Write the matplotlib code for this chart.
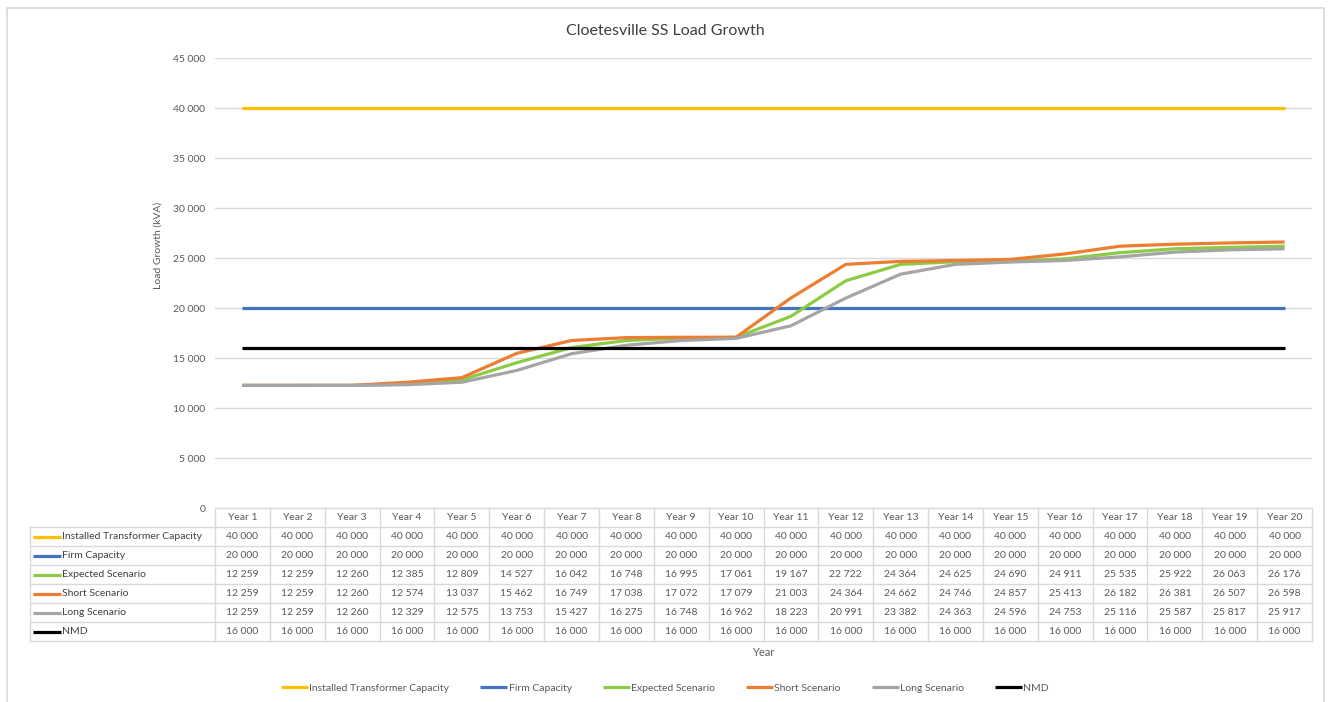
import matplotlib
matplotlib.use("Agg")
import matplotlib.pyplot as plt
import matplotlib.transforms as mtransforms
from matplotlib.lines import Line2D

plt.rcParams['font.family'] = ['Lato', 'DejaVu Sans']

# ---- data ----
years = [f"Year {i}" for i in range(1, 21)]
installed_capacity = [40000] * 20
firm_capacity = [20000] * 20
expected_scenario = [12259, 12259, 12260, 12385, 12809, 14527, 16042, 16748, 16995, 17061,
                     19167, 22722, 24364, 24625, 24690, 24911, 25535, 25922, 26063, 26176]
short_scenario = [12259, 12259, 12260, 12574, 13037, 15462, 16749, 17038, 17072, 17079,
                  21003, 24364, 24662, 24746, 24857, 25413, 26182, 26381, 26507, 26598]
long_scenario = [12259, 12259, 12260, 12329, 12575, 13753, 15427, 16275, 16748, 16962,
                 18223, 20991, 23382, 24363, 24596, 24753, 25116, 25587, 25817, 25917]
nmd = [16000] * 20

series_names = ["Installed Transformer Capacity", "Firm Capacity", "Expected Scenario",
                "Short Scenario", "Long Scenario", "NMD"]
series_values = [installed_capacity, firm_capacity, expected_scenario,
                 short_scenario, long_scenario, nmd]
series_colors = ["#FFC000", "#4472C4", "#8CCB46", "#ED7D31", "#A5A5A5", "#000000"]

y_ticks = list(range(0, 45001, 5000))

# ---- layout helpers (pixel positions on a 1330x702 canvas) ----
W, H = 1330, 702
def fx(x):
    return x / W
def fy(y):
    return 1 - y / H

TEXT = "#595959"
GRID = "#D9D9D9"

fig = plt.figure(figsize=(W / 100, H / 100), dpi=100)
fig.patch.set_facecolor("white")

# outer chart border
fig.add_artist(plt.Rectangle((fx(7), fy(720)), fx(1324) - fx(7), fy(8) - fy(720),
                             transform=fig.transFigure, fill=False,
                             edgecolor=GRID, linewidth=1.2))

ax_left, ax_right, ax_top, ax_bottom = 215, 1312, 58, 508
ax = fig.add_axes([fx(ax_left), fy(ax_bottom), fx(ax_right) - fx(ax_left),
                   fy(ax_top) - fy(ax_bottom)])

x = list(range(len(years)))
for name, vals, col in zip(series_names, series_values, series_colors):
    ax.plot(x, vals, color=col, linewidth=2.3, label=name, solid_capstyle="butt", zorder=3)

ax.set_xlim(-0.5, len(years) - 0.5)
ax.set_ylim(0, 45000)
ax.set_yticks(y_ticks)
ax.set_yticklabels([f"{v:,}".replace(",", " ") for v in y_ticks])
ax.tick_params(axis="y", length=0, labelsize=7.5, labelcolor=TEXT, pad=7)
ax.set_xticks([])
for s in ax.spines.values():
    s.set_visible(False)
ax.yaxis.grid(True, color=GRID, linewidth=1.0)
ax.set_axisbelow(True)

fig.text(fx(665), fy(31), "Cloetesville SS Load Growth", ha="center", va="center",
         fontsize=11.5, color="#404040")
fig.text(fx(158), fy(245), "Load Growth (kVA)", rotation=90, ha="center", va="center",
         fontsize=7.5, color=TEXT)

# ---- data table beneath the plot ----
blend = mtransforms.blended_transform_factory(ax.transData, fig.transFigure)
header_top, header_bot, row_h = 508, 527, 19
label_left = 30
n_rows = len(series_names)
table_bot = header_bot + row_h * n_rows

# vertical cell borders over the year columns
for i in range(len(years) + 1):
    xb = i - 0.5
    fig.add_artist(Line2D([xb, xb], [fy(header_top), fy(table_bot)], transform=blend,
                          color=GRID, linewidth=1.0))
# left border of the label column
fig.add_artist(Line2D([fx(label_left), fx(label_left)], [fy(header_bot), fy(table_bot)],
                      transform=fig.transFigure, color=GRID, linewidth=1.0))
# horizontal cell borders
fig.add_artist(Line2D([fx(ax_left), fx(ax_right)], [fy(header_top)] * 2,
                      transform=fig.transFigure, color=GRID, linewidth=1.0))
for r in range(n_rows + 1):
    yb = header_bot + r * row_h
    fig.add_artist(Line2D([fx(label_left), fx(ax_right)], [fy(yb)] * 2,
                          transform=fig.transFigure, color=GRID, linewidth=1.0))

# column headers
for i, yr in enumerate(years):
    fig.text(i, fy((header_top + header_bot) / 2), yr, transform=blend, ha="center",
             va="center", fontsize=7.5, color=TEXT)

# rows: key line, series name, values
for r, (name, vals, col) in enumerate(zip(series_names, series_values, series_colors)):
    yc = fy(header_bot + r * row_h + row_h / 2)
    fig.add_artist(Line2D([fx(33), fx(61)], [yc, yc], transform=fig.transFigure,
                          color=col, linewidth=2.3, solid_capstyle="butt"))
    fig.text(fx(62), yc, name, ha="left", va="center", fontsize=7.5, color="#404040")
    for i, v in enumerate(vals):
        fig.text(i, yc, f"{v:,}".replace(",", " "), transform=blend, ha="center",
                 va="center", fontsize=7.5, color=TEXT)

fig.text(fx((ax_left + ax_right) / 2), fy(652), "Year", ha="center", va="center",
         fontsize=8, color=TEXT)

# ---- legend ----
handles = [Line2D([], [], color=c, linewidth=2.3, solid_capstyle="butt") for c in series_colors]
fig.legend(handles, series_names, loc="center", bbox_to_anchor=(0.5, fy(688)), ncol=6,
           frameon=False, fontsize=7.5, labelcolor=TEXT, handlelength=2.6,
           handletextpad=0.1, columnspacing=3.0)

fig.savefig("out.png", dpi=100, facecolor="white")
